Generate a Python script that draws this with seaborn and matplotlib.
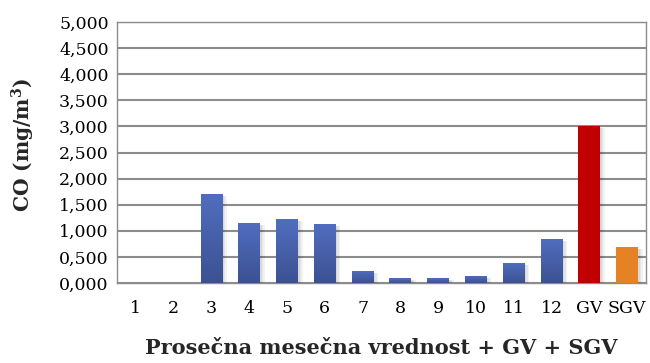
import matplotlib
matplotlib.use("Agg")
import matplotlib.pyplot as plt
import seaborn as sns
import pandas as pd
import numpy as np
from matplotlib.ticker import FuncFormatter
from matplotlib.colors import LinearSegmentedColormap

categories = ["1", "2", "3", "4", "5", "6", "7", "8", "9", "10", "11", "12", "GV", "SGV"]
values = [0.0, 0.0, 1.705, 1.15, 1.225, 1.13, 0.235, 0.095, 0.095, 0.135, 0.385, 0.845, 3.0, 0.69]
bar_colors = ["#4a66b3"] * 12 + ["#c00000", "#e58324"]
y_ticks = [0, 0.5, 1, 1.5, 2, 2.5, 3, 3.5, 4, 4.5, 5]

sns.set_theme(style="white")
plt.rcParams["font.family"] = ["DejaVu Serif"]
plt.rcParams["mathtext.fontset"] = "dejavuserif"

df = pd.DataFrame({"cat": categories, "val": values})

fig = plt.figure(figsize=(6.5, 3.63), dpi=100)
ax = fig.add_axes([117/650, 1-283/363, (646-117)/650, (283-22)/363])

bw = 0.58
# soft shadows
for i, v in enumerate(values):
    if v > 0:
        for k, a in enumerate([0.05, 0.05, 0.05]):
            off = 0.04 + 0.04 * k
            ax.bar(i + off, v, width=bw, bottom=-0.04, color="#000000", alpha=a,
                   zorder=1, linewidth=0)

sns.barplot(data=df, x="cat", y="val", hue="cat", palette=bar_colors, legend=False,
            width=bw, ax=ax, saturation=1, zorder=3, linewidth=0)

# vertical gradient on the blue bars
cmap = LinearSegmentedColormap.from_list("g", ["#3c5191", "#506ec0"])
grad = np.linspace(0, 1, 256).reshape(-1, 1)
bars = [p for p in ax.patches if p.get_zorder() == 3]
for i, p in enumerate(bars[:12]):
    h = p.get_height()
    if h <= 0:
        continue
    x0 = p.get_x()
    im = ax.imshow(grad, extent=[x0, x0 + p.get_width(), 0, h], origin="lower",
                   cmap=cmap, aspect="auto", zorder=4)
    im.set_clip_path(p)

ax.set_ylim(0, 5)
ax.set_xlim(-0.5, len(categories) - 0.5)
ax.set_yticks(y_ticks)
ax.yaxis.set_major_formatter(FuncFormatter(lambda v, p: f"{v:.3f}".replace(".", ",")))
ax.grid(axis="y", color="#8c8c8c", linewidth=1.5, zorder=0)
ax.set_axisbelow(True)
for s in ax.spines.values():
    s.set_color("#8c8c8c")
    s.set_linewidth(1.0)
ax.tick_params(axis="both", labelsize=12.5, length=0, pad=6, colors="#000000")
ax.tick_params(axis="x", pad=12)
ax.set_xlabel("Prosečna mesečna vrednost + GV + SGV", fontsize=15, fontweight="bold", labelpad=15)
ax.set_ylabel("CO (mg/m$^{\\mathbf{3}}$)", fontsize=14.5, fontweight="bold")
ax.yaxis.set_label_coords(-0.152, 0.53)

fig.savefig("out.png", dpi=100)
